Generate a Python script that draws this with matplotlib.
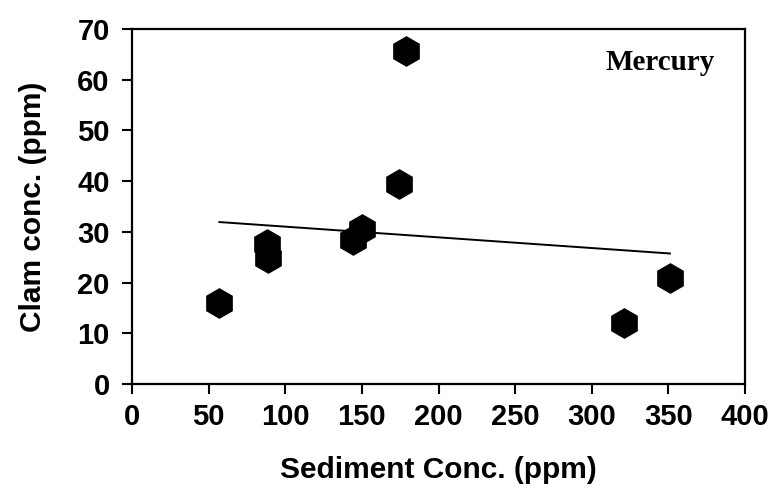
import matplotlib
matplotlib.use("Agg")
import matplotlib.pyplot as plt
import numpy as np

sediment = [57, 88, 89, 144, 150, 174, 179, 321, 351]
clam = [16, 27.6, 24.8, 28.4, 30.5, 39.5, 65.7, 12.0, 21.0]
x_ticks = [0, 50, 100, 150, 200, 250, 300, 350, 400]
y_ticks = [0, 10, 20, 30, 40, 50, 60, 70]

plt.rcParams['font.family'] = ['Liberation Sans', 'DejaVu Sans']

fig = plt.figure(figsize=(7.78, 4.91), dpi=100)
ax = fig.add_axes([0.1697, 0.2179, 0.7879, 0.7230])

ax.plot(sediment, clam, linestyle='none', marker='h', markersize=21,
        color='black', zorder=3)

coef = np.polyfit(sediment, clam, 1)
xs = np.array([min(sediment), max(sediment)])
ax.plot(xs, np.polyval(coef, xs), color='black', linewidth=1.4, zorder=2)

ax.set_xlim(0, 400)
ax.set_ylim(0, 70)
ax.set_xticks(x_ticks)
ax.set_yticks(y_ticks)
ax.tick_params(axis='both', direction='out', length=7, width=1.5,
               labelsize=21, pad=7)
ax.tick_params(axis='y', pad=9)
for lab in ax.get_xticklabels() + ax.get_yticklabels():
    lab.set_fontweight('bold')
for s in ax.spines.values():
    s.set_linewidth(1.6)

ax.set_xlabel('Sediment Conc. (ppm)', fontsize=21.5, fontweight='bold', labelpad=18)
ax.set_ylabel('Clam conc. (ppm)', fontsize=21.5, fontweight='bold', labelpad=22)

ax.text(0.95, 0.905, 'Mercury', transform=ax.transAxes, ha='right', va='center',
        fontsize=21, fontweight='bold', family=['Liberation Serif', 'DejaVu Serif'])

fig.savefig('out.png', dpi=100)
